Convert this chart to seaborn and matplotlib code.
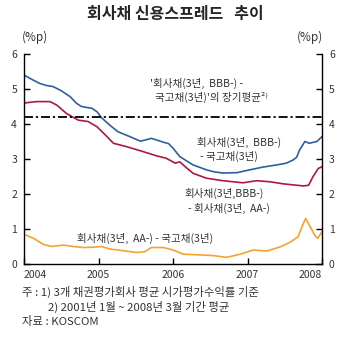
import matplotlib
matplotlib.use("Agg")
import matplotlib.pyplot as plt
import seaborn as sns
import pandas as pd

# ---- data ----
bbb_gov_x = [2004.0, 2004.1, 2004.21, 2004.3, 2004.39, 2004.5, 2004.62, 2004.7, 2004.77, 2004.85,
             2004.91, 2004.98, 2005.04, 2005.15, 2005.26, 2005.42, 2005.56, 2005.64, 2005.71, 2005.8,
             2005.87, 2005.94, 2006.0, 2006.09, 2006.18, 2006.27, 2006.45, 2006.56, 2006.67, 2006.86,
             2007.03, 2007.21, 2007.39, 2007.52, 2007.61, 2007.66, 2007.7, 2007.77, 2007.83, 2007.93, 2008.0]
bbb_gov_y = [5.40, 5.28, 5.16, 5.10, 5.07, 4.95, 4.78, 4.60, 4.50, 4.47,
             4.45, 4.35, 4.18, 3.97, 3.78, 3.64, 3.51, 3.55, 3.59, 3.53,
             3.48, 3.44, 3.31, 3.07, 2.95, 2.83, 2.69, 2.63, 2.60, 2.61,
             2.69, 2.77, 2.83, 2.88, 2.97, 3.05, 3.26, 3.50, 3.45, 3.50, 3.64]

bbb_aa_x = [2004.0, 2004.17, 2004.35, 2004.44, 2004.57, 2004.73, 2004.86, 2004.98, 2005.09, 2005.2,
            2005.38, 2005.6, 2005.78, 2005.91, 2006.03, 2006.09, 2006.18, 2006.27, 2006.45, 2006.67,
            2006.94, 2007.12, 2007.3, 2007.48, 2007.75, 2007.82, 2007.88, 2007.95, 2008.0]
bbb_aa_y = [4.60, 4.64, 4.64, 4.54, 4.30, 4.11, 4.07, 3.92, 3.69, 3.45,
            3.35, 3.21, 3.09, 3.02, 2.88, 2.92, 2.75, 2.59, 2.45, 2.38,
            2.32, 2.38, 2.35, 2.29, 2.23, 2.25, 2.50, 2.73, 2.78]

aa_gov_x = [2004.0, 2004.13, 2004.26, 2004.37, 2004.53, 2004.66, 2004.8, 2004.93, 2005.04, 2005.15,
            2005.33, 2005.51, 2005.62, 2005.71, 2005.87, 2006.0, 2006.14, 2006.36, 2006.54, 2006.72,
            2006.9, 2007.08, 2007.26, 2007.44, 2007.57, 2007.68, 2007.74, 2007.78, 2007.84, 2007.9,
            2007.94, 2008.0]
aa_gov_y = [0.85, 0.73, 0.56, 0.50, 0.54, 0.50, 0.47, 0.48, 0.50, 0.43,
            0.38, 0.33, 0.35, 0.47, 0.47, 0.40, 0.28, 0.26, 0.24, 0.19,
            0.28, 0.40, 0.37, 0.49, 0.62, 0.78, 1.11, 1.30, 1.07, 0.83,
            0.73, 0.92]

long_term_avg = 4.2
year_ticks = [2004, 2005, 2006, 2007, 2008]
year_labels = ["2004", "2005", "2006", "2007", "2008"]
y_ticks = [0, 1, 2, 3, 4, 5, 6]

title = "회사채 신용스프레드   추이"
label_avg = ["'회사채(3년,  BBB-) -", "국고채(3년)'의 장기평균²⁾"]
label_bbb_gov = ["회사채(3년,  BBB-)", "- 국고채(3년)"]
label_bbb_aa = ["회사채(3년,BBB-)", "- 회사채(3년,  AA-)"]
label_aa_gov = "회사채(3년,  AA-) - 국고채(3년)"
notes = ["주 : 1) 3개 채권평가회사 평균 시가평가수익률 기준",
         "2) 2001년 1월 ~ 2008년 3월 기간 평균",
         "자료 : KOSCOM"]

# ---- style ----
sns.set_style("ticks")
plt.rcParams["font.family"] = ["Noto Sans CJK KR", "DejaVu Sans"]

W, H = 347, 341
fig = plt.figure(figsize=(W / 100, H / 100), dpi=100)
fig.patch.set_facecolor("white")
ax = fig.add_axes([24 / W, 1 - 264 / H, 298 / W, 210 / H])

series = [
    (bbb_gov_x, bbb_gov_y, "#2f5f9f"),
    (bbb_aa_x, bbb_aa_y, "#b3163f"),
    (aa_gov_x, aa_gov_y, "#f2a42e"),
]
for xs, ys, col in series:
    df = pd.DataFrame({"year": xs, "spread": ys})
    sns.lineplot(data=df, x="year", y="spread", ax=ax, color=col, linewidth=1.2)

ax.axhline(long_term_avg, color="black", linewidth=1.3, linestyle=(0, (5, 1.6, 1.2, 1.6)))

ax.set_xlim(2004, 2008.0)
ax.set_ylim(0, 6)
ax.set_xticks(year_ticks)
ax.set_xticklabels(year_labels)
ax.set_yticks(y_ticks)
ax.set_xlabel("")
ax.set_ylabel("")
ax.spines["top"].set_visible(False)
for s in ["left", "right", "bottom"]:
    ax.spines[s].set_visible(True)
    ax.spines[s].set_linewidth(1.0)
    ax.spines[s].set_color("black")
ax.tick_params(axis="both", direction="in", length=4, width=1.0, labelsize=7.5,
               colors="black", labelcolor="#333333")
ax.tick_params(axis="y", left=True, right=True, labelleft=True, labelright=True, pad=5)
ax.tick_params(axis="x", top=False, pad=4)
xl = ax.get_xticklabels()
xl[0].set_ha("left")
xl[-1].set_ha("right")

# annotations
tc = "#333333"
fs = 7.6
ax.text(2005.69, 5.17, label_avg[0], fontsize=fs, color=tc, va="center", ha="left")
ax.text(2005.76, 4.77, label_avg[1], fontsize=fs, color=tc, va="center", ha="left")
ax.text(2006.32, 3.46, label_bbb_gov[0], fontsize=fs, color=tc, va="center", ha="left")
ax.text(2006.36, 3.06, label_bbb_gov[1], fontsize=fs, color=tc, va="center", ha="left")
ax.text(2006.16, 2.03, label_bbb_aa[0], fontsize=fs, color=tc, va="center", ha="left")
ax.text(2006.20, 1.60, label_bbb_aa[1], fontsize=fs, color=tc, va="center", ha="left")
ax.text(2004.71, 0.74, label_aa_gov, fontsize=fs, color=tc, va="center", ha="left")

# title and unit labels
fig.text(175 / W, 1 - 14 / H, title, fontsize=11.5, fontweight="bold", ha="center", va="center")
fig.text(35 / W, 1 - 37 / H, "(%p)", fontsize=8.5, color=tc, ha="center", va="center")
fig.text(310 / W, 1 - 37 / H, "(%p)", fontsize=8.5, color=tc, ha="center", va="center")

# notes
nfs = 8.2
fig.text(22 / W, 1 - 292 / H, notes[0], fontsize=nfs, color=tc, ha="left", va="center")
fig.text(48 / W, 1 - 307 / H, notes[1], fontsize=nfs, color=tc, ha="left", va="center")
fig.text(22 / W, 1 - 322 / H, notes[2], fontsize=nfs, color=tc, ha="left", va="center")

fig.savefig("out.png", dpi=100, facecolor="white")
